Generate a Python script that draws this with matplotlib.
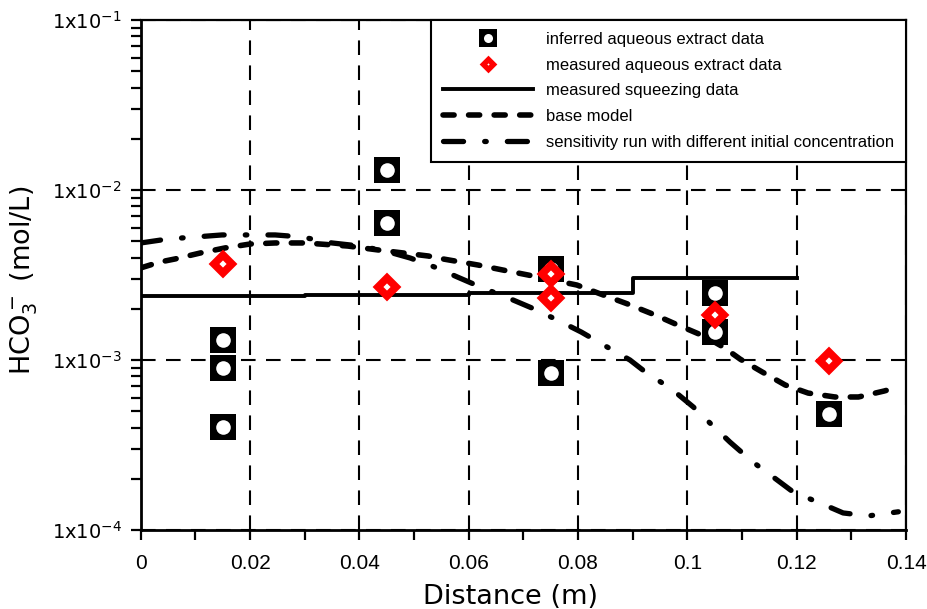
import matplotlib
matplotlib.use("Agg")
import numpy as np
import matplotlib.pyplot as plt
from matplotlib.lines import Line2D
from matplotlib.ticker import FuncFormatter, LogLocator, MultipleLocator, NullFormatter

# --- data ---
# inferred aqueous extract data (black squares)
inf_x = [0.015, 0.015, 0.015, 0.045, 0.045, 0.075, 0.075, 0.105, 0.105, 0.126]
inf_y = [1.31e-3, 8.97e-4, 4.06e-4, 1.31e-2, 6.4e-3, 3.45e-3, 8.34e-4, 2.48e-3, 1.46e-3, 4.81e-4]

# measured aqueous extract data (red diamonds)
meas_x = [0.015, 0.045, 0.075, 0.075, 0.105, 0.126]
meas_y = [3.67e-3, 2.68e-3, 3.19e-3, 2.32e-3, 1.84e-3, 9.9e-4]

# measured squeezing data (step)
sq_x = [0.0, 0.03, 0.06, 0.09, 0.12]
sq_y = [2.38e-3, 2.40e-3, 2.49e-3, 3.03e-3, 3.03e-3]

# base model
base_x = [0.0, 0.0035, 0.0063, 0.0109, 0.0154, 0.020, 0.0246, 0.0301, 0.0379, 0.0434,
          0.0526, 0.0553, 0.0617, 0.0663, 0.0709, 0.0798, 0.0842, 0.0890, 0.0941, 0.0978,
          0.1033, 0.1066, 0.1097, 0.1137, 0.1179, 0.1221, 0.1270, 0.1313, 0.1360, 0.1386]
base_y = [3.48e-3, 3.77e-3, 3.93e-3, 4.26e-3, 4.56e-3, 4.81e-3, 4.88e-3, 4.88e-3, 4.68e-3, 4.44e-3,
          4.09e-3, 3.93e-3, 3.62e-3, 3.38e-3, 3.16e-3, 2.76e-3, 2.44e-3, 2.14e-3, 1.84e-3, 1.63e-3,
          1.37e-3, 1.19e-3, 1.01e-3, 8.5e-4, 7.13e-4, 6.39e-4, 6.06e-4, 6.06e-4, 6.57e-4, 6.94e-4]

# sensitivity run with different initial concentration
sens_x = [0.0, 0.0050, 0.0099, 0.0149, 0.0196, 0.0246, 0.0295, 0.0350, 0.0401, 0.0447,
          0.0493, 0.0542, 0.0579, 0.0626, 0.0672, 0.0716, 0.0762, 0.0806, 0.0846, 0.0895,
          0.0928, 0.0969, 0.1011, 0.1045, 0.1078, 0.1120, 0.1157, 0.1194, 0.1243, 0.1285,
          0.1331, 0.1386]
sens_y = [4.88e-3, 5.15e-3, 5.29e-3, 5.44e-3, 5.44e-3, 5.44e-3, 5.29e-3, 4.88e-3, 4.68e-3, 4.38e-3,
          3.98e-3, 3.48e-3, 3.08e-3, 2.65e-3, 2.32e-3, 2.02e-3, 1.72e-3, 1.46e-3, 1.23e-3, 1.0e-3,
          8.27e-4, 6.84e-4, 5.29e-4, 4.15e-4, 3.29e-4, 2.51e-4, 2.05e-4, 1.67e-4, 1.44e-4, 1.26e-4,
          1.21e-4, 1.28e-4]

LABELS = [
    "inferred aqueous extract data",
    "measured aqueous extract data",
    "measured squeezing data",
    "base model",
    "sensitivity run with different initial concentration",
]

# --- style ---
plt.rcParams["font.family"] = ["Liberation Sans", "DejaVu Sans"]
plt.rcParams["mathtext.fontset"] = "dejavusans"
plt.rcParams["mathtext.default"] = "regular"

BASE_DASH = (2.0, 2.6)
SENS_DASH = (3.8, 4.0, 0.3, 4.0)

fig = plt.figure(figsize=(9.28, 6.09), dpi=100)
ax = fig.add_axes([0.1516, 0.1297, 0.8247, 0.8375])

# lines
ax.plot(sq_x, sq_y, color="black", lw=2.8, drawstyle="steps-post", zorder=3)
ax.plot(base_x, base_y, color="black", lw=4.0, dashes=BASE_DASH,
        dash_capstyle="round", zorder=3)
ax.plot(sens_x, sens_y, color="black", lw=3.8, dashes=SENS_DASH,
        dash_capstyle="round", zorder=3)

# markers
ax.plot(inf_x, inf_y, ls="none", marker="s", ms=19, mfc="black", mec="black", mew=0, zorder=4)
ax.plot(inf_x, inf_y, ls="none", marker="o", ms=10.5, mfc="white", mec="white", mew=0, zorder=5)
ax.plot(meas_x, meas_y, ls="none", marker="D", ms=9, mfc="white", mec="red", mew=5.5, zorder=6)

# axes
ax.set_xlim(0, 0.14)
ax.set_yscale("log")
ax.set_ylim(1e-4, 1e-1)

ax.xaxis.set_major_locator(MultipleLocator(0.02))
ax.xaxis.set_minor_locator(MultipleLocator(0.01))
ax.xaxis.set_major_formatter(FuncFormatter(lambda v, p: "0" if abs(v) < 1e-9 else f"{v:g}"))
ax.yaxis.set_major_locator(LogLocator(base=10, numticks=10))
ax.yaxis.set_minor_locator(LogLocator(base=10, subs=np.arange(2, 10), numticks=20))
ax.yaxis.set_minor_formatter(NullFormatter())
ax.yaxis.set_major_formatter(FuncFormatter(
    lambda v, p: r"1x10$^{%d}$" % int(round(np.log10(v)))))

ax.tick_params(which="both", direction="out", length=7, width=1.6, colors="black")
ax.tick_params(axis="x", which="major", labelsize=15, pad=10.5)
ax.tick_params(axis="y", which="major", labelsize=14, pad=6.5, labelfontfamily="DejaVu Sans")

for side in ["left", "bottom"]:
    ax.spines[side].set_linewidth(2.0)
for side in ["top", "right"]:
    ax.spines[side].set_linewidth(1.6)

ax.set_axisbelow(True)
ax.grid(True, which="major", color="black", lw=1.5, dashes=(7, 5))

ax.set_xlabel("Distance (m)", fontsize=19.5, fontfamily="DejaVu Sans")
ax.set_ylabel(r"HCO$_3^-$ (mol/L)", fontsize=19.5, fontfamily="DejaVu Sans")
ax.xaxis.set_label_coords(0.483, -0.106)
ax.yaxis.set_label_coords(-0.132, 0.49)

# legend with proxy handles (smaller markers than in the plot)
h_sq = (Line2D([], [], ls="none", marker="s", ms=13, mfc="black", mec="black", mew=0),
        Line2D([], [], ls="none", marker="o", ms=6.5, mfc="white", mec="white", mew=0))
h_dm = Line2D([], [], ls="none", marker="D", ms=5.3, mfc="white", mec="red", mew=3.9)
h_sz = Line2D([], [], color="black", lw=2.8)
h_bm = Line2D([], [], color="black", lw=4.0, dashes=BASE_DASH, dash_capstyle="round")
h_sr = Line2D([], [], color="black", lw=3.8, dashes=SENS_DASH, dash_capstyle="round")

leg = ax.legend([h_sq, h_dm, h_sz, h_bm, h_sr], LABELS, loc="upper right",
                bbox_to_anchor=(1.0, 1.0), borderaxespad=0, fontsize=12,
                handlelength=5.4, handletextpad=0.78, labelspacing=0.64,
                borderpad=0.72, numpoints=1, fancybox=False, framealpha=1,
                edgecolor="black")
leg.get_frame().set_linewidth(1.5)
leg.set_zorder(10)

fig.savefig("out.png", dpi=100)
